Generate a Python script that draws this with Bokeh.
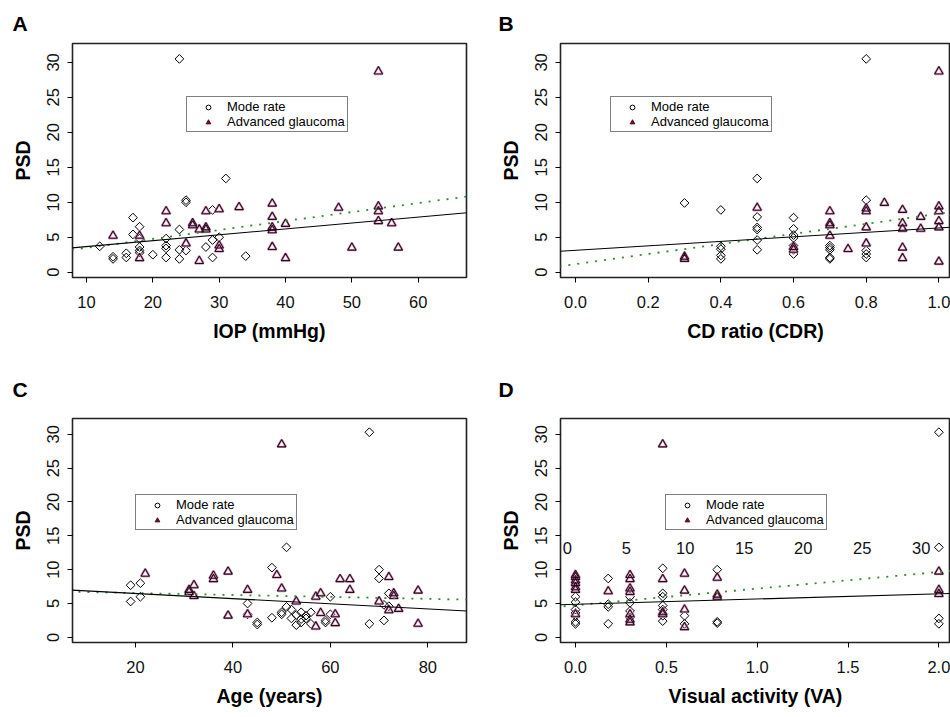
import math
from bokeh.plotting import figure
from bokeh.models import (Range1d, FixedTicker, NumeralTickFormatter, Slope,
                          Legend, LegendItem)
from bokeh.layouts import row, column
from bokeh.embed import file_html
from bokeh.resources import INLINE
from bokeh.core.properties import value

FONT = "Liberation Sans"

# ---------------- data ----------------
psd_ticks = [0, 5, 10, 15, 20, 25, 30]
legend_labels = ["Mode rate", "Advanced glaucoma"]

# Panel A: IOP (mmHg)
A_mod_x = [12, 14, 14, 16, 16, 17, 17, 18, 18, 18, 18, 18, 20, 22, 22, 22, 22, 24, 24, 24, 24,
           25, 25, 25, 28, 29, 29, 29, 30, 31, 34]
A_mod_y = [3.7, 2.2, 1.9, 2.7, 2.1, 7.8, 5.4, 6.5, 4.8, 3.6, 3.1, 2.8, 2.5, 4.8, 3.8, 3.4, 2.1,
           30.5, 6.1, 3.2, 1.9, 10.3, 10.0, 3.1, 3.6, 8.9, 4.6, 2.1, 5.0, 13.4, 2.3]
A_adv_x = [14, 18, 18, 22, 22, 25, 26, 26, 27, 27, 28, 28, 28, 30, 30, 30, 33, 38, 38, 38, 38, 38,
           40, 40, 48, 50, 54, 54, 54, 54, 56, 57]
A_adv_y = [5.2, 5.2, 2.0, 8.7, 7.0, 4.1, 7.0, 6.7, 6.1, 1.6, 8.7, 6.4, 6.1, 9.0, 3.8, 3.3, 9.3,
           9.8, 7.9, 6.4, 6.0, 3.6, 6.9, 2.0, 9.2, 3.5, 28.7, 9.4, 8.7, 7.3, 7.0, 3.5]
A_ticks = [10, 20, 30, 40, 50, 60]
A_fit_solid = (2.81, 0.0846)     # (intercept, slope)
A_fit_dotted = (2.2, 0.128)

# Panel B: CD ratio (CDR)
B_mod_x = [0.3, 0.4, 0.4, 0.4, 0.4, 0.4, 0.5, 0.5, 0.5, 0.5, 0.5, 0.5, 0.6, 0.6, 0.6, 0.6, 0.6,
           0.6, 0.6, 0.7, 0.7, 0.7, 0.7, 0.7, 0.8, 0.8, 0.8, 0.8, 0.8]
B_mod_y = [9.9, 8.9, 3.7, 3.3, 2.4, 1.9, 13.4, 7.9, 6.4, 6.1, 4.6, 3.2, 7.8, 6.2, 5.3, 4.9, 3.8,
           3.2, 2.6, 3.8, 3.5, 3.2, 2.1, 1.9, 30.5, 10.3, 3.1, 2.6, 2.1]
B_adv_x = [0.3, 0.3, 0.5, 0.6, 0.6, 0.7, 0.7, 0.7, 0.7, 0.75, 0.8, 0.8, 0.8, 0.8, 0.85, 0.9, 0.9,
           0.9, 0.9, 0.9, 0.95, 0.95, 1.0, 1.0, 1.0, 1.0, 1.0, 1.0]
B_adv_y = [2.2, 1.9, 9.2, 3.6, 3.2, 8.7, 7.0, 6.7, 5.2, 3.3, 9.1, 8.7, 6.4, 4.1, 9.9, 8.9, 7.0,
           6.2, 3.5, 2.0, 7.9, 6.2, 28.7, 9.4, 8.7, 7.3, 6.4, 1.5]
B_ticks = [0.0, 0.2, 0.4, 0.6, 0.8, 1.0]
B_fit_solid = (3.13, 3.2)
B_fit_dotted = (1.15, 7.21)

# Panel C: Age (years)
C_mod_x = [19, 19, 21, 21, 43, 43, 45, 45, 48, 48, 50, 50, 51, 51, 52, 52, 53, 53, 54, 54, 54,
           55, 55, 56, 56, 59, 59, 60, 60, 68, 68, 70, 70, 71, 71, 72, 72]
C_mod_y = [7.7, 5.3, 8.0, 6.0, 5.0, 3.4, 2.2, 1.9, 10.3, 2.9, 3.7, 3.4, 13.3, 4.5, 4.1, 2.8, 3.3,
           1.8, 3.7, 2.7, 2.2, 3.2, 2.8, 3.7, 2.0, 2.5, 2.2, 6.0, 3.4, 30.3, 2.0, 10.0, 8.7, 4.8,
           2.5, 6.5, 4.6]
C_adv_x = [22, 31, 31, 32, 32, 36, 36, 39, 39, 43, 43, 49, 50, 50, 53, 57, 57, 58, 58, 61, 61, 62,
           64, 64, 70, 72, 72, 73, 73, 74, 78, 78]
C_adv_y = [9.4, 7.0, 6.7, 7.7, 6.1, 9.1, 8.6, 9.7, 3.2, 7.0, 3.4, 9.2, 28.5, 7.2, 5.3, 6.0, 1.6,
           6.5, 3.6, 3.4, 2.1, 8.6, 8.6, 7.0, 5.3, 8.9, 4.0, 6.5, 6.1, 4.2, 6.9, 2.0]
C_ticks = [20, 40, 60, 80]
C_fit_solid = (7.24, -0.038)
C_fit_dotted = (6.83, -0.0143)

# Panel D: Visual activity (VA)
D_mod_x = [0, 0, 0, 0, 0, 0, 0, 0.18, 0.18, 0.18, 0.18, 0.3, 0.3, 0.3, 0.3, 0.48, 0.48, 0.48,
           0.48, 0.48, 0.48, 0.48, 0.6, 0.6, 0.78, 0.78, 0.78, 2, 2, 2, 2]
D_mod_y = [6.0, 5.2, 4.1, 3.6, 3.2, 2.3, 2.0, 8.7, 4.9, 4.5, 2.0, 6.0, 5.1, 3.9, 2.9, 10.2, 6.5,
           6.0, 4.7, 4.1, 3.2, 2.4, 3.2, 2.0, 10.0, 2.3, 2.1, 30.3, 13.3, 2.8, 2.0]
D_adv_x = [0, 0, 0, 0, 0, 0, 0, 0.18, 0.3, 0.3, 0.3, 0.3, 0.3, 0.3, 0.3, 0.48, 0.48, 0.48, 0.48,
           0.6, 0.6, 0.6, 0.6, 0.78, 0.78, 0.78, 2, 2, 2]
D_adv_y = [9.2, 8.9, 8.4, 8.0, 7.4, 7.0, 3.4, 6.8, 9.2, 8.6, 7.2, 6.7, 3.4, 2.6, 2.2, 28.5, 8.6,
           3.7, 3.4, 9.4, 6.9, 4.1, 1.5, 8.8, 6.3, 6.0, 9.7, 7.0, 6.4]
D_ticks = [0.0, 0.5, 1.0, 1.5, 2.0]
D_top_ticks = [0, 5, 10, 15, 20, 25, 30]
D_fit_solid = (4.89, 0.773)
D_fit_dotted = (4.74, 2.46)

TRI_DARK = "#2a0c1c"
TRI_PINK = "#d9a0c6"
TRI_KEY = "#5a1232"
GREEN = "#2f8a2f"


def panel(letter, xlabel, xr, yr, xticks, fmt, mx, my, ax_, ay, fit_s, fit_d,
          width, height, borders, title_offset, title_standoff, legend_pos):
    bl, br, bt, bb = borders
    p = figure(width=width, height=height, x_range=Range1d(*xr), y_range=Range1d(*yr),
               output_backend="svg", toolbar_location=None,
               min_border_left=bl, min_border_right=br, min_border_top=bt, min_border_bottom=bb)
    p.xgrid.visible = False
    p.ygrid.visible = False
    p.background_fill_color = "white"
    p.border_fill_color = "white"
    p.outline_line_color = "#222222"
    p.outline_line_width = 1.6
    for axis in (p.xaxis[0], p.yaxis[0]):
        axis.axis_line_color = None
        axis.major_tick_out = 5
        axis.major_tick_in = 0
        axis.major_tick_line_color = "black"
        axis.major_tick_line_width = 1
        axis.minor_tick_line_color = None
        axis.major_label_text_font = FONT
        axis.major_label_text_font_size = "16.5px"
        axis.major_label_text_color = "#111111"
        axis.axis_label_text_font = FONT
        axis.axis_label_text_font_size = "19.5px"
        axis.axis_label_text_font_style = "bold"
        axis.axis_label_text_color = "black"
    p.xaxis.ticker = FixedTicker(ticks=xticks)
    p.yaxis.ticker = FixedTicker(ticks=psd_ticks)
    if fmt:
        p.xaxis.formatter = NumeralTickFormatter(format=fmt)
    p.yaxis.major_label_orientation = "vertical"
    p.xaxis.major_label_standoff = 13
    p.yaxis.major_label_standoff = 8
    p.xaxis.axis_label = xlabel
    p.yaxis.axis_label = "PSD"
    p.xaxis.axis_label_standoff = 9
    p.yaxis.axis_label_standoff = 11

    # panel letter
    p.title.text = letter
    p.title.align = "left"
    p.title.vertical_align = "top"
    p.title.offset = title_offset
    p.title.standoff = title_standoff
    p.title.text_font = FONT
    p.title.text_font_size = "21px"
    p.title.text_font_style = "bold"
    p.title.text_color = "black"

    # points
    p.scatter(mx, my, marker="square", angle=math.pi / 4, size=6.2,
              line_color="black", line_width=1, fill_color=None)
    p.scatter(ax_, ay, marker="triangle", size=8.5, line_color=TRI_PINK, line_width=2.4,
              fill_color=None)
    p.scatter(ax_, ay, marker="triangle", size=8.5, line_color=TRI_DARK, line_width=1.1,
              fill_color=None)

    # legend keys (zero-size copies of the series, shown only in the legend)
    km = p.scatter(mx, my, marker="circle", size=0, line_color="black", line_width=1,
                   fill_color=None)
    ka = p.scatter(ax_, ay, marker="triangle", size=0, line_color=TRI_KEY, line_width=1,
                   fill_color=TRI_KEY)

    # fitted lines
    p.add_layout(Slope(gradient=fit_d[1], y_intercept=fit_d[0], line_color=GREEN,
                       line_width=1.8, line_dash="2 7"))
    p.add_layout(Slope(gradient=fit_s[1], y_intercept=fit_s[0], line_color="black",
                       line_width=1.1))

    # legend
    leg = Legend(items=[LegendItem(label=legend_labels[0], renderers=[km]),
                        LegendItem(label=legend_labels[1], renderers=[ka])],
                 location=legend_pos, orientation="vertical")
    leg.label_text_font = FONT
    leg.label_text_font_size = "13px"
    leg.label_text_color = "black"
    leg.label_height = 12
    leg.glyph_height = 12
    leg.glyph_width = 38
    leg.label_standoff = 0
    leg.spacing = 0
    leg.padding = 2
    leg.margin = 0
    leg.border_line_color = "black"
    leg.border_line_width = 1.2
    leg.background_fill_color = "white"
    leg.background_fill_alpha = 1.0
    p.add_layout(leg)
    return p


pA = panel("A", "IOP (mmHg)", (7.89, 67.28), (-0.76, 32.7), A_ticks, None,
           A_mod_x, A_mod_y, A_adv_x, A_adv_y, A_fit_solid, A_fit_dotted,
           475, 360, (72, 9, 43, 83), -60, 14, (114, 145))
pB = panel("B", "CD ratio (CDR)", (-0.0413, 1.032), (-0.76, 32.7), B_ticks, "0.0",
           B_mod_x, B_mod_y, B_adv_x, B_adv_y, B_fit_solid, B_fit_dotted,
           475, 360, (85, 0, 43, 83), -62, 14, (50, 145))
pC = panel("C", "Age (years)", (7.07, 87.94), (-0.76, 32.33), C_ticks, None,
           C_mod_x, C_mod_y, C_adv_x, C_adv_y, C_fit_solid, C_fit_dotted,
           475, 349, (72, 9, 58, 58), -60, 32, (63, 112))
pD = panel("D", "Visual activity (VA)", (-0.0826, 2.064), (-0.76, 32.33), D_ticks, "0.0",
           D_mod_x, D_mod_y, D_adv_x, D_adv_y, D_fit_solid, D_fit_dotted,
           475, 349, (85, 0, 58, 58), -62, 32, (105, 112))

# secondary scale labels drawn inside panel D
pD.extra_x_ranges = {"va30": Range1d(-0.57, 32.48)}
top_label_y = 13.2
pD.text(x=D_top_ticks, y=[top_label_y] * len(D_top_ticks), text=[str(t) for t in D_top_ticks],
        x_range_name="va30", text_font=value(FONT), text_font_size="16.5px",
        text_align="center", text_baseline="middle", text_color="#111111")

layout = column(row(pA, pB), row(pC, pD))
open("out.html", "w").write(file_html(layout, INLINE))
